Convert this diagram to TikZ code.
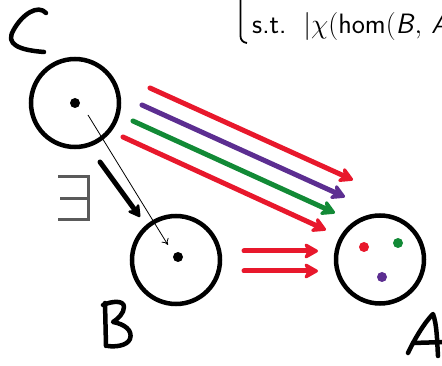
\RequirePackage{fix-cm}
\documentclass[tikz,border=0pt]{standalone}
\usepackage{fontspec}
\usetikzlibrary{arrows.meta}
\definecolor{myred}{RGB}{232,24,44}
\definecolor{mypurple}{RGB}{92,46,145}
\definecolor{mygreen}{RGB}{18,138,54}
\definecolor{mygray}{RGB}{90,90,90}
\begin{document}
\begin{tikzpicture}[x=1pt,y=-1pt,
  setcirc/.style={draw,circle,line width=4.5pt,minimum size=88pt,inner sep=0pt},
  pt/.style={circle,fill,inner sep=0pt,minimum size=10pt},
  hand/.style={line width=4.5pt,line cap=round,line join=round},
  colarrow/.style={line width=5pt,line cap=round,-{Stealth[length=17pt,width=19pt,inset=5pt,round]}},
]
\useasboundingbox (0,0) rectangle (442,366);
% sets
\node[setcirc] (C) at (75,103) {};
\node[setcirc] (B) at (176,260) {};
\node[setcirc] (A) at (380,259.5) {};
\node[pt] (c0) at (75,103) {};
\node[pt] (b0) at (178,257) {};
\node[pt,myred] (ar) at (364,247) {};
\node[pt,mygreen] (ag) at (398,243) {};
\node[pt,mypurple] (ap) at (382,277) {};
% handwritten labels
\draw[hand] (46,13) .. controls (38,4) and (22,14) .. (13,31) .. controls (6,44) and (18,50) .. (44,52);
\draw[hand] (105,303) -- (106,346);
\draw[hand] (103,305) .. controls (112,301) and (124,300) .. (124,307) .. controls (124,313) and (118,319) .. (113,322)
  .. controls (124,324) and (133,330) .. (130,339) .. controls (127,346) and (115,347) .. (108,346);
\draw[hand] (408,353) .. controls (415,338) and (425,322) .. (433,314) .. controls (437,325) and (437,340) .. (438,356);
\draw[hand] (413,343) -- (445,342);
% exists
\draw[mygray,line width=3pt] (58,177) -- (88,177) -- (88,220) -- (58,220) (60,199) -- (88,199);
% top text
\draw[line width=1.8pt] (240.5,-2) -- (240.5,36) .. controls (240.5,40) and (243,42.5) .. (247,43);
\node[anchor=base west,inner sep=0pt,font=\sffamily\fontsize{28}{32}\selectfont] (txt) at (252,34)
  {s.t.\hspace{17pt}$|\chi($hom$($\textsl{B}$,$\hspace{9pt}\textsl{A}$)|$};
% arrows C -> B
\coordinate (t1) at (88,115);
\coordinate (t2) at (168,245);
\draw[line width=0.8pt,-{To[length=6pt,width=8pt]}] (t1) -- (t2);
\coordinate (k1) at (100,162);
\coordinate (k2) at (140,217);
\draw[line width=5pt,line cap=round,-{Stealth[length=15pt,width=17pt,inset=5pt,round]}] (k1) -- (k2);
% coloured arrows C -> A
\coordinate (r1s) at (150,88);  \coordinate (r1e) at (353,180);
\coordinate (p1s) at (142,105); \coordinate (p1e) at (345,197);
\coordinate (g1s) at (133,121); \coordinate (g1e) at (335,213);
\coordinate (r2s) at (123,137); \coordinate (r2e) at (326,230);
\draw[colarrow,myred] (r1s) -- (r1e);
\draw[colarrow,mypurple] (p1s) -- (p1e);
\draw[colarrow,mygreen] (g1s) -- (g1e);
\draw[colarrow,myred] (r2s) -- (r2e);
% arrows B -> A
\coordinate (h1s) at (244,251); \coordinate (h1e) at (318,251);
\coordinate (h2s) at (244,271); \coordinate (h2e) at (318,271);
\draw[colarrow,myred] (h1s) -- (h1e);
\draw[colarrow,myred] (h2s) -- (h2e);
\end{tikzpicture}
\end{document}
